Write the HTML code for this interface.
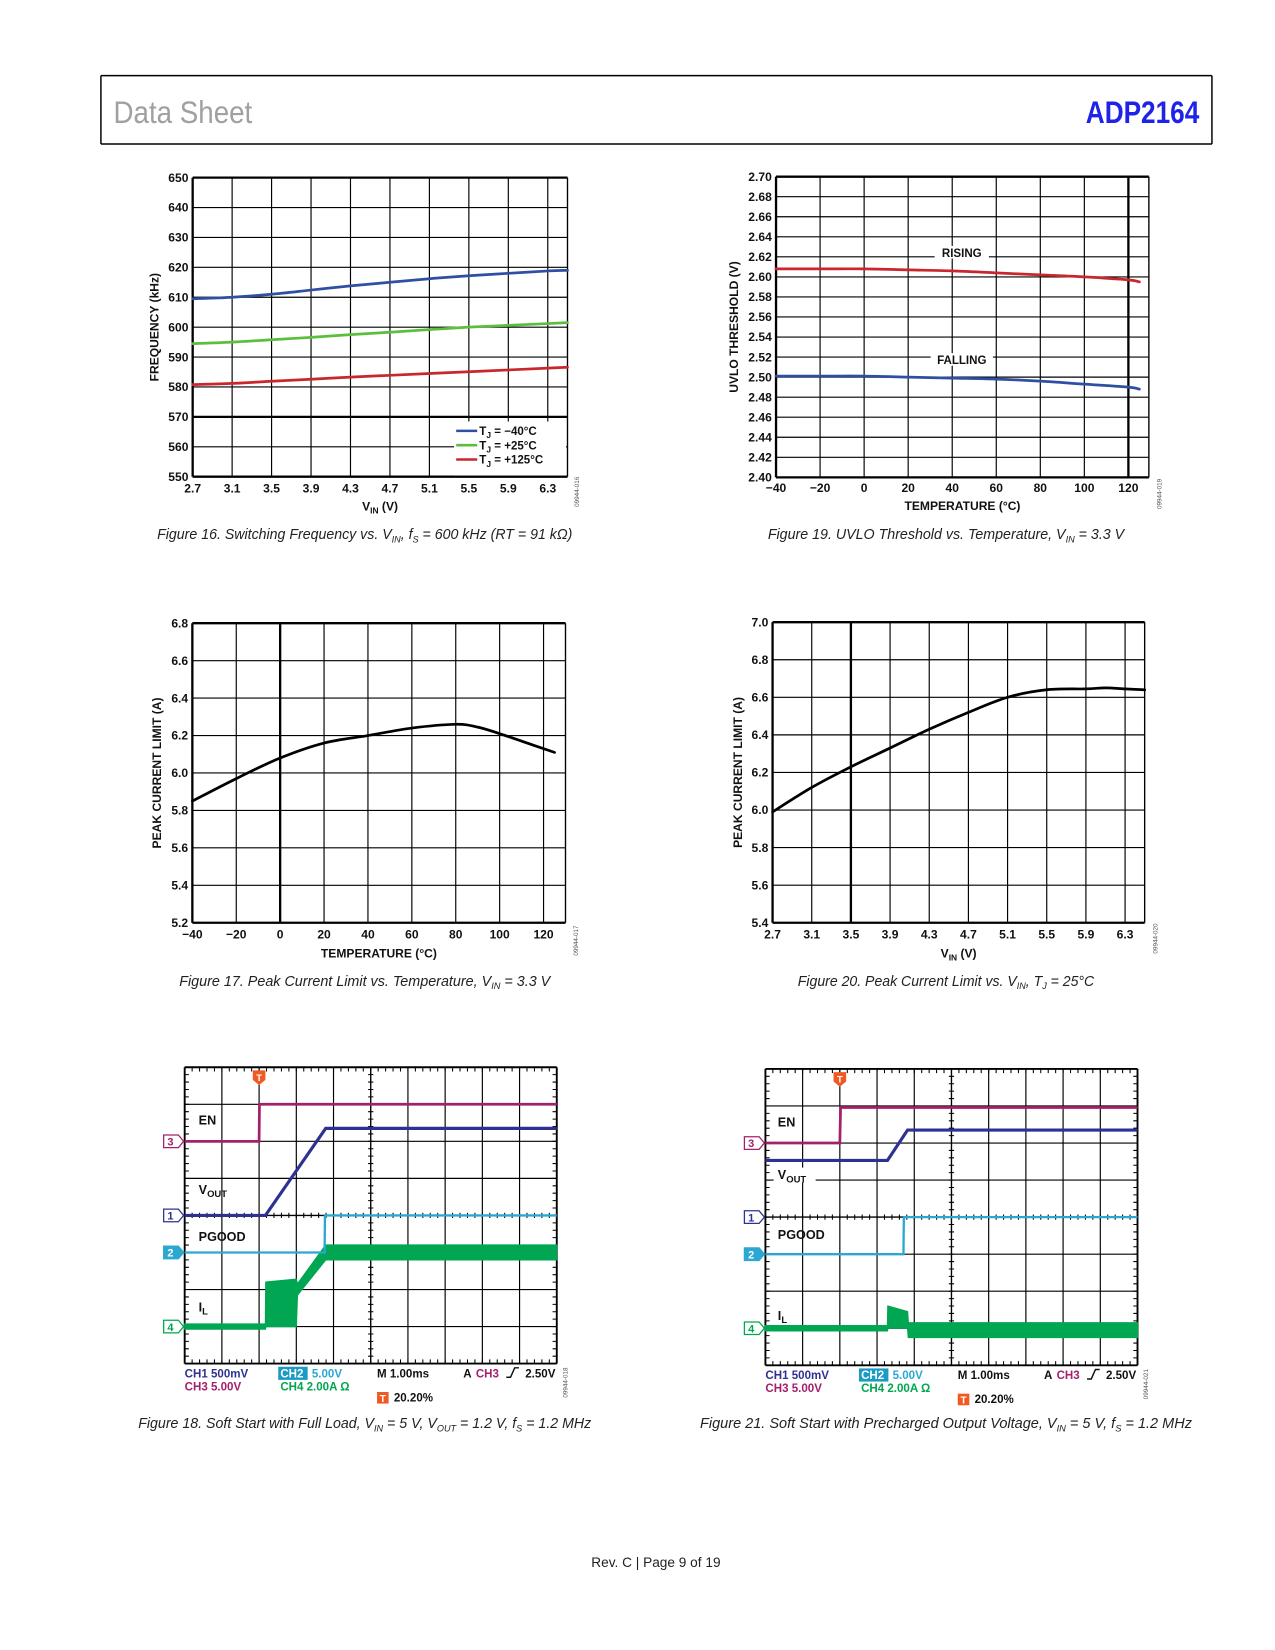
<!DOCTYPE html>
<html><head><meta charset="utf-8"><title>ADP2164 Data Sheet page 9</title>
<style>
html,body{margin:0;padding:0;background:#fff;}
svg{display:block;}
text{font-family:"Liberation Sans",Arial,sans-serif;}
</style></head>
<body>
<svg id="page" xmlns="http://www.w3.org/2000/svg" width="1275" height="1650" viewBox="0 0 1213 1570" preserveAspectRatio="none">
<rect x="0" y="0" width="1213" height="1570" fill="#fff"/>
<g>
<line x1="96" y1="72" x2="1153" y2="72" stroke="#000" stroke-width="1.4"/>
<line x1="96" y1="137" x2="1153" y2="137" stroke="#000" stroke-width="1.4"/>
<line x1="96" y1="72" x2="96" y2="137" stroke="#000" stroke-width="1.4"/>
<line x1="1153" y1="72" x2="1153" y2="137" stroke="#000" stroke-width="1.4"/>
<text x="108" y="117" font-size="30" fill="#a0a0a0" textLength="132" lengthAdjust="spacingAndGlyphs">Data Sheet</text>
<text x="1033" y="117" font-size="30" font-weight="bold" fill="#1f22e8" textLength="108" lengthAdjust="spacingAndGlyphs">ADP2164</text>
</g>
<text x="624" y="1491" font-size="13" text-anchor="middle" fill="#222">Rev. C | Page 9 of 19</text>
</svg>
<script>
// ---------- Data ----------
const fig16X = [2.7, 3.1, 3.5, 3.9, 4.3, 4.7, 5.1, 5.5, 5.9, 6.3, 6.5];
const fig16Minus40 = [609.5, 610, 611, 612.4, 613.8, 615, 616.2, 617.2, 618, 618.8, 619];
const fig16Plus25 = [594.5, 595, 595.8, 596.6, 597.5, 598.3, 599.2, 600, 600.6, 601.2, 601.5];
const fig16Plus125 = [580.8, 581.2, 581.9, 582.6, 583.3, 583.9, 584.5, 585.1, 585.7, 586.3, 586.6];
const fig16XTicks = ["2.7","3.1","3.5","3.9","4.3","4.7","5.1","5.5","5.9","6.3"];
const fig16YTicks = ["550","560","570","580","590","600","610","620","630","640","650"];
const fig19X = [-40, -20, 0, 20, 40, 60, 80, 100, 120, 125];
const fig19Rising = [2.608, 2.608, 2.608, 2.607, 2.606, 2.604, 2.602, 2.600, 2.597, 2.595];
const fig19Falling = [2.501, 2.501, 2.501, 2.500, 2.499, 2.498, 2.496, 2.493, 2.490, 2.488];
const fig19XTicks = ["\u221240","\u221220","0","20","40","60","80","100","120"];
const fig19YTicks = ["2.40","2.42","2.44","2.46","2.48","2.50","2.52","2.54","2.56","2.58","2.60","2.62","2.64","2.66","2.68","2.70"];
const fig17X = [-40, -20, 0, 20, 40, 60, 80, 90, 100, 115, 125];
const fig17Y = [5.85, 5.97, 6.08, 6.16, 6.20, 6.24, 6.26, 6.245, 6.21, 6.15, 6.11];
const fig17XTicks = ["\u221240","\u221220","0","20","40","60","80","100","120"];
const fig17YTicks = ["5.2","5.4","5.6","5.8","6.0","6.2","6.4","6.6","6.8"];
const fig20X = [2.7, 3.1, 3.5, 3.9, 4.3, 4.7, 5.1, 5.5, 5.9, 6.1, 6.3, 6.5];
const fig20Y = [5.99, 6.12, 6.23, 6.33, 6.43, 6.52, 6.60, 6.64, 6.645, 6.65, 6.645, 6.64];
const fig20XTicks = ["2.7","3.1","3.5","3.9","4.3","4.7","5.1","5.5","5.9","6.3"];
const fig20YTicks = ["5.4","5.6","5.8","6.0","6.2","6.4","6.6","6.8","7.0"];
const f18EnT = [0, 2.0, 2.01, 10];
const f18EnV = [2.0, 2.0, 1.0, 1.0];
const f18VoutT = [0, 2.17, 3.79, 10];
const f18VoutV = [4.0, 4.0, 1.65, 1.65];
const f18PgT = [0, 3.76, 3.77, 10];
const f18PgV = [5.0, 5.0, 4.0, 4.0];
const f18IlT = [0, 2.17, 2.18, 3.0, 3.03, 3.79, 10];
const f18IlHi = [6.93, 6.93, 5.8, 5.72, 5.85, 4.8, 4.8];
const f18IlLo = [7.07, 7.07, 7.0, 7.0, 6.15, 5.2, 5.2];
const f21EnT = [0, 2.0, 2.02, 10];
const f21EnV = [2.0, 2.0, 1.04, 1.04];
const f21VoutT = [0, 3.28, 3.82, 10];
const f21VoutV = [2.47, 2.47, 1.65, 1.65];
const f21PgT = [0, 3.71, 3.72, 10];
const f21PgV = [5.0, 5.0, 4.0, 4.0];
const f21IlT = [0, 3.28, 3.29, 3.82, 3.84, 10];
const f21IlHi = [6.93, 6.93, 6.4, 6.55, 6.85, 6.85];
const f21IlLo = [7.07, 7.07, 7.0, 7.0, 7.25, 7.25];

// ---------- Helpers ----------
const NS = 'http://www.w3.org/2000/svg';
const svg = document.getElementById('page');
function mk(tag, attrs, parent) {
  const e = document.createElementNS(NS, tag);
  for (const k in attrs) e.setAttribute(k, attrs[k]);
  (parent || svg).appendChild(e);
  return e;
}
function txt(str, attrs, parent) { const e = mk('text', attrs, parent); e.textContent = str; return e; }
function smooth(pts) {
  let d = 'M' + pts[0][0].toFixed(2) + ',' + pts[0][1].toFixed(2);
  for (let i = 0; i < pts.length - 1; i++) {
    const p0 = pts[i - 1] || pts[i], p1 = pts[i], p2 = pts[i + 1], p3 = pts[i + 2] || p2;
    const c1 = [p1[0] + (p2[0] - p0[0]) / 6, p1[1] + (p2[1] - p0[1]) / 6];
    const c2 = [p2[0] - (p3[0] - p1[0]) / 6, p2[1] - (p3[1] - p1[1]) / 6];
    d += ' C' + c1[0].toFixed(2) + ',' + c1[1].toFixed(2) + ' ' + c2[0].toFixed(2) + ',' + c2[1].toFixed(2) + ' ' + p2[0].toFixed(2) + ',' + p2[1].toFixed(2);
  }
  return d;
}

function makeChart(c) {
  const g = mk('g', {});
  
  
  const sx = v => c.x0 + (v - c.xmin) / (c.xmax - c.xmin) * (c.x1 - c.x0);
  const sy = v => c.y1 - (v - c.ymin) / (c.ymax - c.ymin) * (c.y1 - c.y0);
  c.yTickLabels.forEach((lab, i) => {
    const v = c.ymin + i * c.yStep;
    const y = sy(v);
    const thick = (c.thickH !== undefined && Math.abs(v - c.thickH) < 1e-6) || i === 0 || i === c.yTickLabels.length - 1;
    const l = mk('line', {x1: c.x0, y1: y, x2: c.x1, y2: y, stroke: '#000', 'stroke-width': thick ? 2.2 : 1.1}, g);
    
    
    const t = txt(lab, {x: c.x0 - 4, y: y + 4, 'font-size': 11.5, 'font-weight': 'bold', 'text-anchor': 'end', fill: '#111'}, g);
    
    
  });
  c.xTickLabels.forEach((lab, i) => {
    const v = c.xmin + i * c.xStep;
    const x = sx(v);
    const thick = (c.thickV !== undefined && Math.abs(v - c.thickV) < 1e-6) || i === 0;
    const l = mk('line', {x1: x, y1: c.y0, x2: x, y2: c.y1, stroke: '#000', 'stroke-width': thick ? 2.2 : 1.1}, g);
    
    
    const t = txt(lab, {x: x, y: c.y1 + c.tickDy, 'font-size': 11.5, 'font-weight': 'bold', 'text-anchor': 'middle', fill: '#111'}, g);
    
    
  });
  const rb = mk('line', {x1: c.x1, y1: c.y0, x2: c.x1, y2: c.y1, stroke: '#000', 'stroke-width': 1.3}, g);
  
  
  c.series.forEach(s => {
    const pts = s.x.map((xv, i) => [sx(xv), sy(s.y[i])]);
    const p = mk('path', {d: smooth(pts), fill: 'none', stroke: s.color, 'stroke-width': 2.6, 'stroke-linecap': 'round'}, g);
    
    
  });
  const yt = mk('text', {x: 0, y: 0, 'font-size': 11.5, 'font-weight': 'bold', 'text-anchor': 'middle', fill: '#111', transform: 'translate(' + c.yTitleX + ',' + ((c.y0 + c.y1) / 2) + ') rotate(-90)'}, g);
  yt.textContent = c.yTitle;
  
  
  const xt = mk('text', {x: (c.x0 + c.x1) / 2, y: c.y1 + c.titleDy, 'font-size': 11.5, 'font-weight': 'bold', 'text-anchor': 'middle', fill: '#111'}, g);
  
  
  if (c.xTitleSub) {
    xt.appendChild(document.createTextNode('V'));
    const sub = mk('tspan', {'font-size': 8, dy: 3}, xt); sub.textContent = 'IN';
    const rest = mk('tspan', {dy: -3}, xt); rest.textContent = ' (V)';
  } else xt.textContent = c.xTitle;
  const id = mk('text', {x: 0, y: 0, 'font-size': 6, fill: '#555', 'text-anchor': 'middle', transform: 'translate(' + c.idX + ',' + c.idY + ') rotate(-90)'}, g);
  id.textContent = c.figId;
  
  
  return {g, sx, sy};
}

function caption(x, y, len, parts, name) {
  const t = mk('text', {x: x, y: y, 'font-size': 14, 'font-style': 'italic', 'text-anchor': 'middle', fill: '#222', textLength: len, lengthAdjust: 'spacingAndGlyphs'});
  
  
  parts.forEach(p => {
    if (typeof p === 'string') { const s = mk('tspan', {}, t); s.textContent = p; }
    else { const s = mk('tspan', {'font-size': 9, dy: 3}, t); s.textContent = p.sub; const r = mk('tspan', {dy: -3, 'font-size': 1}, t); r.textContent = '\u200b'; }
  });
}

makeChart({name: 'figure-16-chart', x0: 183.3, x1: 539.9, xmin: 2.7, xmax: 6.5, xStep: 0.4, y0: 169, y1: 453.6, ymin: 550, ymax: 650, yStep: 10,
  thickH: 570, xTickLabels: fig16XTicks, yTickLabels: fig16YTicks, tickDy: 15, titleDy: 32, yTitleX: 151, yTitle: 'FREQUENCY (kHz)', xTitleSub: true,
  idX: 551, idY: 468, figId: '09944-016',
  series: [{name: 'series-tj-minus40', x: fig16X, y: fig16Minus40, color: '#2e4fa3'},
           {name: 'series-tj-plus25', x: fig16X, y: fig16Plus25, color: '#5cbf3c'},
           {name: 'series-tj-plus125', x: fig16X, y: fig16Plus125, color: '#c9262e'}]});
(function legend() {
  const g = mk('g', {});
  
  
  mk('rect', {x: 432, y: 401, width: 106.5, height: 51.5, fill: '#fff'}, g);
  const cols = ['#2e4fa3', '#5cbf3c', '#c9262e'];
  const labs = [' = \u221240\u00b0C', ' = +25\u00b0C', ' = +125\u00b0C'];
  labs.forEach((lab, i) => {
    const y = 410 + i * 13.6;
    const l = mk('line', {x1: 434, y1: y, x2: 454, y2: y, stroke: cols[i], 'stroke-width': 2.4}, g);
    
    
    const t = mk('text', {x: 456, y: y + 4, 'font-size': 11, 'font-weight': 'bold', fill: '#111'}, g);
    
    
    t.appendChild(document.createTextNode('T'));
    const s = mk('tspan', {'font-size': 8, dy: 3}, t); s.textContent = 'J';
    const r = mk('tspan', {dy: -3}, t); r.textContent = lab;
  });
})();
caption(347, 513, 395, ['Figure 16. Switching Frequency vs. V', {sub: 'IN'}, ', f', {sub: 'S'}, ' = 600 kHz (RT = 91 k\u03a9)'], 'figure-16-caption');

makeChart({name: 'figure-19-chart', x0: 738.3, x1: 1093, xmin: -40, xmax: 129.3, xStep: 20, y0: 168.1, y1: 454.2, ymin: 2.40, ymax: 2.70, yStep: 0.02,
  thickV: 120, xTickLabels: fig19XTicks, yTickLabels: fig19YTicks, tickDy: 14, titleDy: 31, yTitleX: 702, yTitle: 'UVLO THRESHOLD (V)', xTitle: 'TEMPERATURE (\u00b0C)',
  idX: 1105, idY: 470, figId: '09944-019',
  series: [{name: 'series-rising', x: fig19X, y: fig19Rising, color: '#c9262e'},
           {name: 'series-falling', x: fig19X, y: fig19Falling, color: '#2e4fa3'}]});
[['RISING', 243], ['FALLING', 345]].forEach(([lab, y]) => {
  const w = lab.length * 7.6 + 6;
  mk('rect', {x: 915 - w / 2, y: y - 9, width: w, height: 12, fill: '#fff'});
  const t = txt(lab, {x: 915, y: y + 1.5, 'font-size': 11, 'font-weight': 'bold', 'text-anchor': 'middle', fill: '#111'});
  
  
});
caption(900, 513, 339, ['Figure 19. UVLO Threshold vs. Temperature, V', {sub: 'IN'}, ' = 3.3 V'], 'figure-19-caption');

makeChart({name: 'figure-17-chart', x0: 183, x1: 538, xmin: -40, xmax: 130, xStep: 20, y0: 593, y1: 878, ymin: 5.2, ymax: 6.8, yStep: 0.2,
  thickV: 0, xTickLabels: fig17XTicks, yTickLabels: fig17YTicks, tickDy: 15, titleDy: 33, yTitleX: 153, yTitle: 'PEAK CURRENT LIMIT (A)', xTitle: 'TEMPERATURE (\u00b0C)',
  idX: 550, idY: 895, figId: '09944-017',
  series: [{name: 'series-peak-current', x: fig17X, y: fig17Y, color: '#000'}]});
caption(347, 938, 353, ['Figure 17. Peak Current Limit vs. Temperature, V', {sub: 'IN'}, ' = 3.3 V'], 'figure-17-caption');

makeChart({name: 'figure-20-chart', x0: 735, x1: 1089, xmin: 2.7, xmax: 6.5, xStep: 0.4, y0: 592, y1: 878, ymin: 5.4, ymax: 7.0, yStep: 0.2,
  thickV: 3.5, xTickLabels: fig20XTicks, yTickLabels: fig20YTicks, tickDy: 15, titleDy: 33, yTitleX: 706, yTitle: 'PEAK CURRENT LIMIT (A)', xTitleSub: true,
  idX: 1101, idY: 893, figId: '09944-020',
  series: [{name: 'series-peak-current', x: fig20X, y: fig20Y, color: '#000'}]});
caption(900, 938, 282, ['Figure 20. Peak Current Limit vs. V', {sub: 'IN'}, ', T', {sub: 'J'}, ' = 25\u00b0C'], 'figure-20-caption');

const C_EN = '#a3206c', C_VOUT = '#2e3192', C_PG = '#2aa8d2', C_IL = '#00a651';
function scope(o) {
  const g = mk('g', {});
  
  
  const dx = o.w / 10, dy = o.h / 8;
  const X = t => o.x0 + t * dx, Y = v => o.y0 + v * dy;
  for (let i = 0; i <= 10; i++) {
    const l = mk('line', {x1: X(i), y1: o.y0, x2: X(i), y2: o.y0 + o.h, stroke: '#000', 'stroke-width': (i === 0 || i === 10) ? 1.8 : (i === 5 ? 1.3 : 1.1)}, g);
    
    
  }
  for (let j = 0; j <= 8; j++) {
    const l = mk('line', {x1: o.x0, y1: Y(j), x2: o.x0 + o.w, y2: Y(j), stroke: '#000', 'stroke-width': (j === 0 || j === 8) ? 1.8 : (j === 4 ? 1.3 : 1.1)}, g);
    
    
  }
  let d = '';
  for (let k = 1; k < 50; k++) {
    const x = X(k / 5);
    d += 'M' + x + ',' + o.y0 + 'v4 M' + x + ',' + (o.y0 + o.h) + 'v-4 M' + x + ',' + (Y(4) - 2.5) + 'v5 ';
  }
  for (let k = 1; k < 40; k++) {
    const y = Y(k / 5);
    d += 'M' + o.x0 + ',' + y + 'h4 M' + (o.x0 + o.w) + ',' + y + 'h-4 M' + (X(5) - 2.5) + ',' + y + 'h5 ';
  }
  const ticks = mk('path', {d: d, stroke: '#000', 'stroke-width': 1}, g);
  
  
  const hi = o.ilT.map((t, i) => X(t) + ',' + Y(o.ilHi[i]));
  const lo = o.ilT.map((t, i) => X(t) + ',' + Y(o.ilLo[i])).reverse();
  const band = mk('polygon', {points: hi.concat(lo).join(' '), fill: C_IL, stroke: C_IL, 'stroke-width': 1.2}, g);
  
  
  const trace = (T, V, col, nm, w) => {
    const p = mk('polyline', {points: T.map((t, i) => X(t) + ',' + Y(V[i])).join(' '), fill: 'none', stroke: col, 'stroke-width': w}, g);
    
    
  };
  trace(o.pgT, o.pgV, C_PG, 'trace-pgood', 2.2);
  trace(o.voutT, o.voutV, C_VOUT, 'trace-vout', 3);
  trace(o.enT, o.enV, C_EN, 'trace-en', 2.6);
  o.labels.forEach(([lab, sub, x, y, bg]) => {
    if (bg) mk('rect', {x: x - 4, y: y - 11, width: 40, height: 14, fill: '#fff'}, g);
    const t = mk('text', {x: x, y: y, 'font-size': 12, 'font-weight': 'bold', fill: '#111'}, g);
    
    
    t.appendChild(document.createTextNode(lab));
    if (sub) { const s = mk('tspan', {'font-size': 9, dy: 3}, t); s.textContent = sub; }
  });
  [['3', 2.0 , C_EN, false], ['1', 4.0, C_VOUT, false], ['2', 5.0, C_PG, true], ['4', 7.0, C_IL, false]].forEach(([n, lv, col, fill]) => {
    const y = Y(lv), x = o.x0 - 20;
    const m = mk('polygon', {points: x + ',' + (y - 6) + ' ' + (x + 14) + ',' + (y - 6) + ' ' + (x + 19) + ',' + y + ' ' + (x + 14) + ',' + (y + 6) + ' ' + x + ',' + (y + 6), fill: fill ? col : '#fff', stroke: col, 'stroke-width': 1.2}, g);
    
    
    txt(n, {x: x + 6.5, y: y + 4, 'font-size': 10.5, 'font-weight': 'bold', 'text-anchor': 'middle', fill: fill ? '#fff' : col}, g);
  });
  const tx = X(o.trig);
  const tm = mk('path', {d: 'M' + (tx - 6) + ',' + (o.y0 + 3) + 'h12v9l-6,5l-6,-5z', fill: '#f05a22'}, g);
  
  
  txt('T', {x: tx, y: o.y0 + 13, 'font-size': 9, 'font-weight': 'bold', 'text-anchor': 'middle', fill: '#fff'}, g);
  const bx = o.x0, by = o.y0 + o.h + 13;
  const r = (s, x, y, col, nm) => { const t = txt(s, {x: x, y: y, 'font-size': 11, 'font-weight': 'bold', fill: col}, g);   };
  r('CH1  500mV', bx, by, C_VOUT, 'ch1-scale');
  r('CH3  5.00V', bx, by + 12.5, C_EN, 'ch3-scale');
  mk('rect', {x: bx + 89, y: by - 10, width: 28, height: 12.5, fill: '#1b9ac4'}, g);
  r('CH2', bx + 91, by, '#fff', 'ch2-label');
  r('5.00V', bx + 121, by, C_PG, 'ch2-scale');
  r('CH4  2.00A \u03a9', bx + 91, by + 12.5, C_IL, 'ch4-scale');
  r('M 1.00ms', bx + 183, by, '#111', 'timebase');
  r('A', bx + 265, by, '#111', 'trigger-mode');
  r('CH3', bx + 277, by, C_EN, 'trigger-source');
  const edge = mk('path', {d: 'M' + (bx + 306) + ',' + by + 'h4l4,-9h4', fill: 'none', stroke: '#111', 'stroke-width': 1.4}, g);
  
  
  r('2.50V', bx + 324, by, '#111', 'trigger-level');
  mk('rect', {x: bx + 183, y: by + 14, width: 11, height: 11, fill: '#f05a22'}, g);
  txt('T', {x: bx + 188.5, y: by + 23.5, 'font-size': 9.5, 'font-weight': 'bold', 'text-anchor': 'middle', fill: '#fff'}, g);
  r('20.20%', bx + 199, by + 23, '#111', 'trigger-position');
  const id = mk('text', {x: 0, y: 0, 'font-size': 6, fill: '#555', 'text-anchor': 'middle', transform: 'translate(' + (o.x0 + o.w + 10) + ',' + (o.y0 + o.h + 18) + ') rotate(-90)'}, g);
  id.textContent = o.figId;
  
  
}
scope({name: 'figure-18-scope', x0: 175.7, y0: 1015.5, w: 354, h: 282, trig: 2.0, figId: '09944-018',
  enT: f18EnT, enV: f18EnV, voutT: f18VoutT, voutV: f18VoutV, pgT: f18PgT, pgV: f18PgV, ilT: f18IlT, ilHi: f18IlHi, ilLo: f18IlLo,
  labels: [['EN', '', 189, 1070, false], ['V', 'OUT', 189, 1136, false], ['PGOOD', '', 189, 1181, false], ['I', 'L', 189, 1248, false]]});
scope({name: 'figure-21-scope', x0: 728.2, y0: 1017.1, w: 354, h: 282, trig: 2.0, figId: '09944-021',
  enT: f21EnT, enV: f21EnV, voutT: f21VoutT, voutV: f21VoutV, pgT: f21PgT, pgV: f21PgV, ilT: f21IlT, ilHi: f21IlHi, ilLo: f21IlLo,
  labels: [['EN', '', 740, 1072, false], ['V', 'OUT', 740, 1122, true], ['PGOOD', '', 740, 1179, false], ['I', 'L', 740, 1256, false]]});
caption(347, 1359, 431, ['Figure 18. Soft Start with Full Load, V', {sub: 'IN'}, ' = 5 V, V', {sub: 'OUT'}, ' = 1.2 V, f', {sub: 'S'}, ' = 1.2 MHz'], 'figure-18-caption');
caption(900, 1359, 468, ['Figure 21. Soft Start with Precharged Output Voltage, V', {sub: 'IN'}, ' = 5 V, f', {sub: 'S'}, ' = 1.2 MHz'], 'figure-21-caption');
</script>
</body></html>
